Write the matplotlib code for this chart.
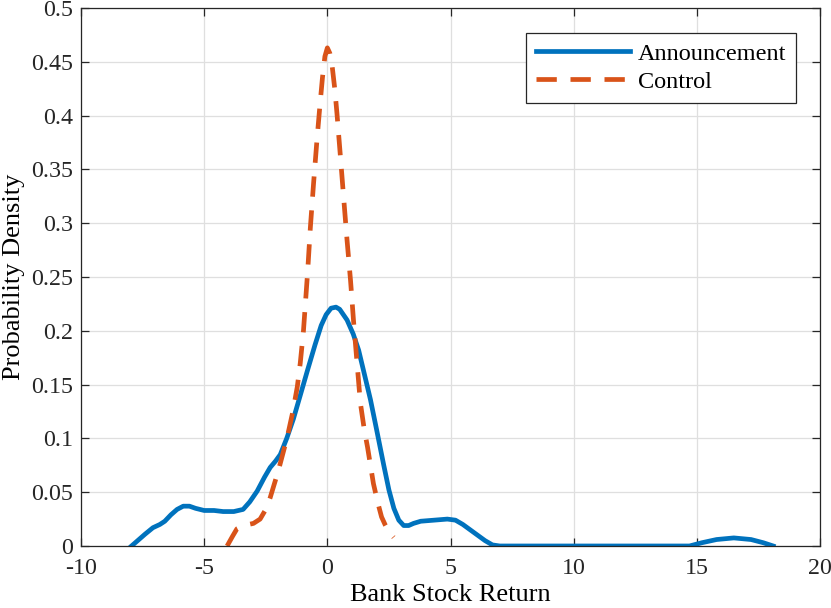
import matplotlib
matplotlib.use('Agg')
import matplotlib.pyplot as plt

# Announcement density
ann_x = [-7.95, -7.7, -7.4, -7.08, -6.8, -6.6, -6.35, -6.1, -5.85, -5.6, -5.35, -5.0,
         -4.6, -4.23, -3.8, -3.42, -3.15, -2.85, -2.55, -2.32, -2.1, -1.91, -1.65, -1.38,
         -1.1, -0.81, -0.5, -0.25, -0.05, 0.15, 0.35, 0.5, 0.8, 1.05, 1.27, 1.5, 1.75,
         2.0, 2.29, 2.5, 2.7, 2.9, 3.1, 3.3, 3.5, 3.79, 4.33, 4.87, 5.2, 5.5, 5.8, 6.1,
         6.4, 6.7, 7.0, 14.7, 15.2, 15.8, 16.5, 17.2, 17.7, 18.1]
ann_y = [0.0, 0.005, 0.011, 0.017, 0.020, 0.023, 0.029, 0.034, 0.037, 0.037, 0.035, 0.033,
         0.033, 0.032, 0.032, 0.034, 0.041, 0.051, 0.064, 0.073, 0.079, 0.085, 0.1, 0.118,
         0.14, 0.163, 0.187, 0.205, 0.215, 0.221, 0.222, 0.220, 0.21, 0.197, 0.182, 0.16, 0.136,
         0.108, 0.075, 0.052, 0.035, 0.024, 0.019, 0.019, 0.021, 0.023, 0.024, 0.025, 0.024, 0.02, 0.015, 0.01,
         0.005, 0.001, 0.0, 0.0, 0.003, 0.006, 0.0075, 0.006, 0.003, 0.0]

# Control density
ctl_x = [-4.07, -3.85, -3.67, -3.4, -3.0, -2.73, -2.5, -2.32, -1.99, -1.63, -1.4, -1.22,
         -1.1, -0.97, -0.8, -0.69, -0.56, -0.42, -0.3, -0.2, -0.1, 0.0, 0.1, 0.19, 0.3,
         0.39, 0.53, 0.66, 0.8, 0.94, 1.06, 1.22, 1.34, 1.5, 1.63, 1.87, 2.05, 2.2, 2.36,
         2.5, 2.69]
ctl_y = [0.0, 0.009, 0.016, 0.019, 0.021, 0.025, 0.034, 0.045, 0.07, 0.101, 0.125, 0.148,
         0.17, 0.2, 0.255, 0.296, 0.337, 0.378, 0.41, 0.435, 0.455, 0.463, 0.458, 0.447, 0.425,
         0.402, 0.362, 0.324, 0.284, 0.247, 0.21, 0.166, 0.133, 0.108, 0.092, 0.058, 0.04, 0.027, 0.019,
         0.013, 0.008]

plt.rcParams['font.family'] = ['Liberation Serif', 'DejaVu Serif']
plt.rcParams['axes.unicode_minus'] = False

fig = plt.figure(figsize=(8.31, 6.08), dpi=100)
ax = fig.add_axes([0.0975, 0.102, 0.8893, 0.8848])

ax.plot(ann_x, ann_y, color='#0072BD', lw=3.4, label='Announcement', solid_joinstyle='round')
ax.plot(ctl_x, ctl_y, color='#D95319', lw=3.4, dashes=(4.3, 2.9), label='Control')

ax.set_xlim(-10, 20)
ax.set_ylim(0, 0.5)
ax.set_xticks(range(-10, 21, 5))
ax.set_yticks([i * 0.05 for i in range(11)])
ax.set_yticklabels(['0', '0.05', '0.1', '0.15', '0.2', '0.25', '0.3', '0.35', '0.4', '0.45', '0.5'])
ax.set_xlabel('Bank Stock Return', fontsize=19, labelpad=3)
ax.set_ylabel('Probability Density', fontsize=19, labelpad=4)

ax.grid(True, color='#dfdfdf', lw=0.9)
ax.set_axisbelow(True)
ax.tick_params(direction='in', length=6, width=0.9, top=True, right=True,
               colors='#262626', labelsize=17.3, pad=6)
ax.tick_params(axis='x', pad=9)
for s in ax.spines.values():
    s.set_color('#262626')
    s.set_linewidth(0.9)

leg = ax.legend(loc='upper right', bbox_to_anchor=(0.9675, 0.9535), handlelength=3.9,
                fancybox=False, framealpha=1, edgecolor='#262626', borderpad=0.4,
                labelspacing=0.25, handletextpad=0.3, fontsize=17.5, borderaxespad=0)
leg.get_frame().set_linewidth(0.9)

fig.savefig('out.png', dpi=100, facecolor='white')
